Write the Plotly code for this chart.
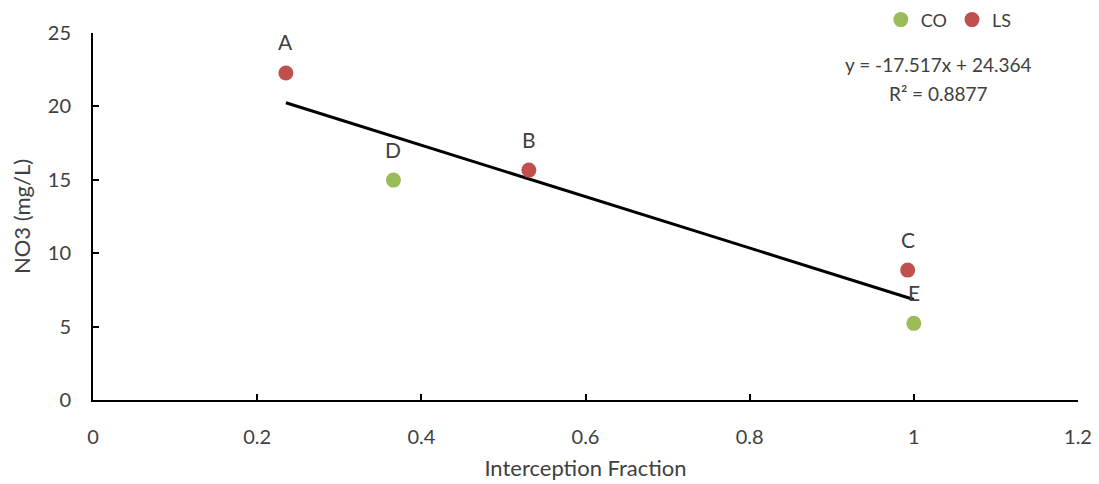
import plotly.graph_objects as go

# Data
labels_co = ["D", "E"]
x_co = [0.366, 1.0]
y_co = [14.98, 5.22]

labels_ls = ["A", "B", "C"]
x_ls = [0.235, 0.531, 0.9925]
y_ls = [22.28, 15.66, 8.85]

slope = -17.517
intercept = 24.364
r2 = 0.8877

x_ticks = [0, 0.2, 0.4, 0.6, 0.8, 1, 1.2]
x_ticktext = ["0", "0.2", "0.4", "0.6", "0.8", "1", "1.2"]
y_ticks = [0, 5, 10, 15, 20, 25]

FONT = "Lato, 'Open Sans', sans-serif"
TXT = "#404040"
GREEN = "#9BBB59"
RED = "#C0504D"

all_x = x_co + x_ls
x_line = [min(all_x), max(all_x)]
y_line = [slope * v + intercept for v in x_line]

fig = go.Figure()
fig.add_trace(go.Scatter(x=x_line, y=y_line, mode="lines",
                         line=dict(color="black", width=3),
                         showlegend=False, hoverinfo="skip"))
fig.add_trace(go.Scatter(x=x_co, y=y_co, mode="markers", name="CO",
                         marker=dict(color=GREEN, size=15)))
fig.add_trace(go.Scatter(x=x_ls, y=y_ls, mode="markers", name="LS",
                         marker=dict(color=RED, size=15)))

for lx, ly, lt in zip(x_co + x_ls, y_co + y_ls, labels_co + labels_ls):
    fig.add_annotation(x=lx, y=ly, text=lt, showarrow=False, yshift=31,
                       font=dict(family=FONT, size=21, color=TXT))

fig.add_annotation(xref="paper", yref="paper", x=0.858, y=0.9155,
                   xanchor="center", yanchor="middle",
                   text=f"y = {slope}x + {intercept}", showarrow=False,
                   font=dict(family=FONT, size=19, color=TXT))
fig.add_annotation(xref="paper", yref="paper", x=0.858, y=0.8365,
                   xanchor="center", yanchor="middle",
                   text=f"R² = {r2}", showarrow=False,
                   font=dict(family=FONT, size=19, color=TXT))

fig.update_layout(
    width=1091, height=476,
    margin=dict(l=85, r=21, t=25, b=84, autoexpand=False),
    paper_bgcolor="white", plot_bgcolor="white",
    font=dict(family=FONT, size=20, color=TXT),
    legend=dict(orientation="h", xref="container", yref="container",
                x=0.800, y=0.975, xanchor="left", yanchor="middle",
                font=dict(family=FONT, size=18, color=TXT),
                itemwidth=30, tracegroupgap=0, bgcolor="rgba(0,0,0,0)"),
    xaxis=dict(range=[0, 1.2], tickvals=x_ticks, ticktext=x_ticktext,
               showline=True, linecolor="black", linewidth=2,
               ticks="inside", ticklen=6, tickwidth=2, tickcolor="black",
               showgrid=False, zeroline=False, automargin=False,
               ticklabelstandoff=18,
               title=dict(text="Interception Fraction", standoff=14,
                          font=dict(family=FONT, size=22, color=TXT)),
               tickfont=dict(family=FONT, size=20, color=TXT)),
    yaxis=dict(range=[0, 25], tickvals=y_ticks,
               showline=True, linecolor="black", linewidth=2,
               ticks="inside", ticklen=6, tickwidth=2, tickcolor="black",
               showgrid=False, zeroline=False, automargin=False,
               ticklabelstandoff=16,
               title=dict(text="NO3 (mg/L)", standoff=12,
                          font=dict(family=FONT, size=22, color=TXT)),
               tickfont=dict(family=FONT, size=20, color=TXT)),
)

fig.write_html("out.html")
